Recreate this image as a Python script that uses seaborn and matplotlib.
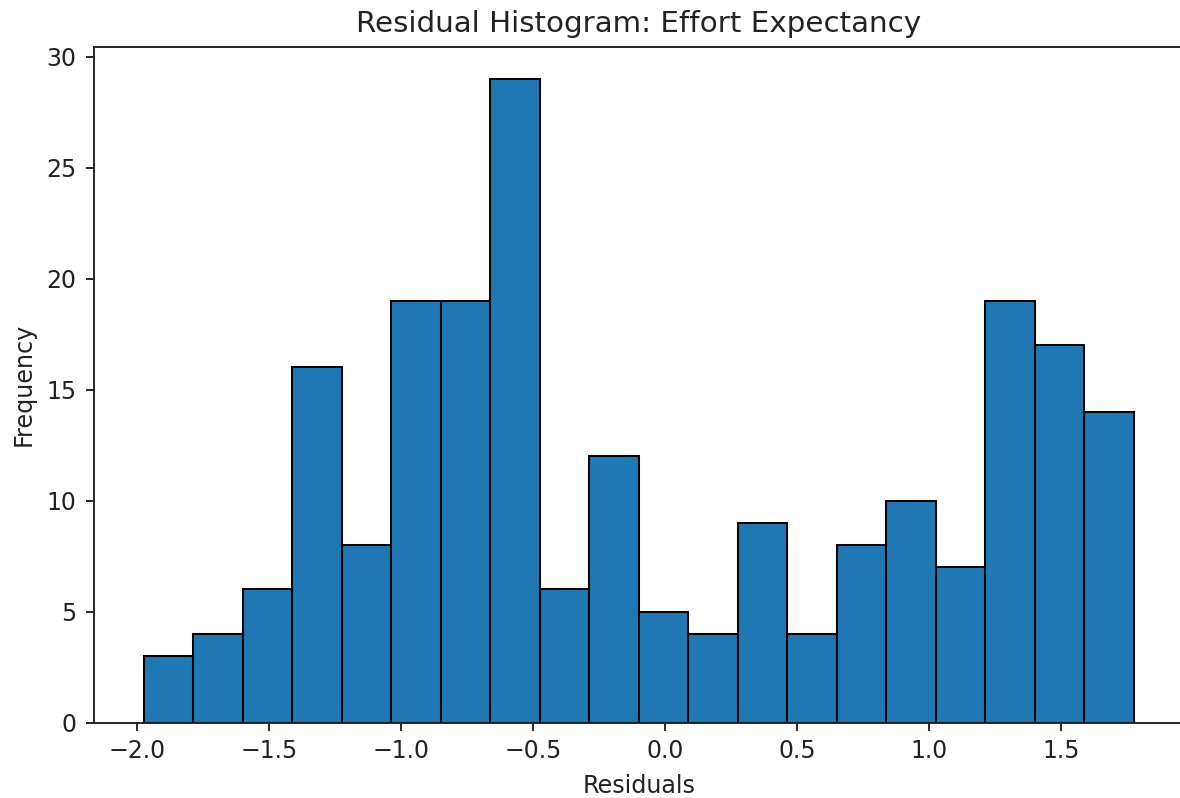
import numpy as np
import pandas as pd
import matplotlib
matplotlib.use("Agg")
import matplotlib.pyplot as plt
import seaborn as sns

# Data (20 equal-width bins)
residual_min = -1.974
residual_max = 1.7745
n_bins = 20
bin_counts = [3, 4, 6, 16, 8, 19, 19, 29, 6, 12, 5, 4, 9, 4, 8, 10, 7, 19, 17, 14]

edges = np.linspace(residual_min, residual_max, n_bins + 1)
bin_centers = (edges[:-1] + edges[1:]) / 2
df = pd.DataFrame({"residual": bin_centers, "count": bin_counts})

s = 1.72
plt.rcParams.update({
    "font.family": ["DejaVu Sans"],
    "font.size": 10 * s,
    "axes.titlesize": 12.3 * s,
    "axes.labelsize": 10 * s,
    "xtick.labelsize": 9.9 * s,
    "ytick.labelsize": 9.9 * s,
    "axes.linewidth": 0.8 * s,
    "xtick.major.width": 0.8 * s,
    "ytick.major.width": 0.8 * s,
    "xtick.major.size": 3.5 * s,
    "ytick.major.size": 3.5 * s,
    "xtick.major.pad": 3.5 * s,
    "ytick.major.pad": 3.8 * s,
    "axes.titlepad": 6 * s,
    "axes.labelpad": 4.3 * s,
    "text.color": "#222222",
    "xtick.color": "#222222",
    "ytick.color": "#222222",
    "axes.labelcolor": "#222222",
    "axes.edgecolor": "#222222",
})

fig = plt.figure(figsize=(11.8, 7.98), dpi=100)
ax = fig.add_axes([94 / 1180, 1 - 722.7 / 798, 1089.5 / 1180, 676 / 798])

sns.histplot(data=df, x="residual", weights="count", bins=n_bins,
             binrange=(residual_min, residual_max), color="#1f77b4",
             alpha=1, edgecolor="black", linewidth=0.85 * s, ax=ax)

ax.set_title("Residual Histogram: Effort Expectancy")
ax.set_xlabel("Residuals")
ax.set_ylabel("Frequency")

fig.savefig("out.png", dpi=100)
